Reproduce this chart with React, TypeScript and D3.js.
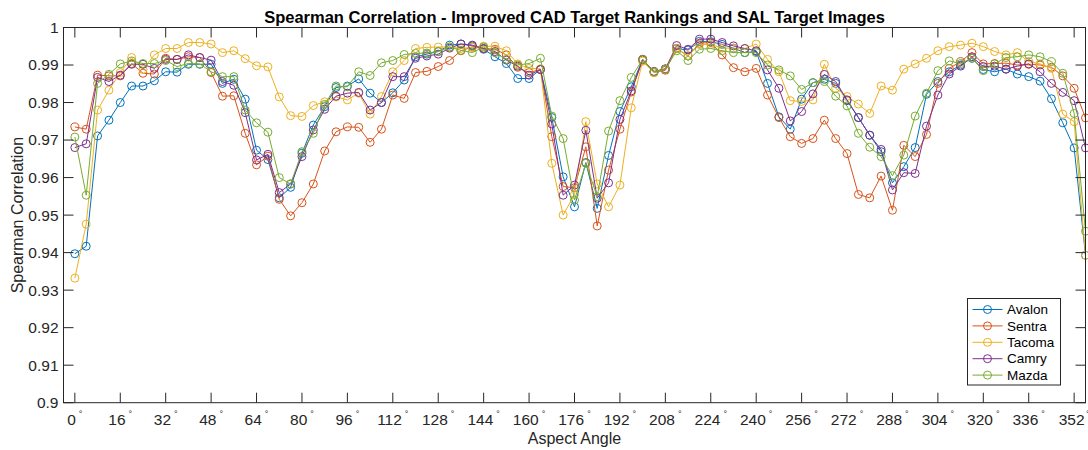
import React from "react";
import * as d3 from "d3";

const angles: number[] = d3.range(0, 360, 4);

const avalon: number[] = [
  0.9397, 0.9417, 0.9711, 0.9753, 0.98, 0.9844, 0.9844, 0.9858, 0.9882, 0.9881,
  0.9902, 0.9902, 0.9902, 0.9851, 0.9862, 0.9809, 0.9673, 0.9648, 0.9546, 0.9574,
  0.9665, 0.974, 0.9789, 0.984, 0.9844, 0.9863, 0.9825, 0.98, 0.9826, 0.986,
  0.9922, 0.9929, 0.9936, 0.9953, 0.9956, 0.9951, 0.9942, 0.9922, 0.9904, 0.9864,
  0.9864, 0.9888, 0.976, 0.9602, 0.9522, 0.964, 0.9518, 0.9659, 0.9776, 0.9842,
  0.9915, 0.9882, 0.9889, 0.9944, 0.994, 0.9963, 0.9962, 0.9955, 0.9945, 0.9933,
  0.9936, 0.9851, 0.9762, 0.9729, 0.9809, 0.9853, 0.9862, 0.9851, 0.9805, 0.976,
  0.9713, 0.9669, 0.9586, 0.9629, 0.968, 0.9822, 0.9856, 0.9882, 0.99, 0.9918,
  0.9888, 0.9882, 0.9889, 0.9876, 0.9869, 0.9857, 0.981, 0.9746, 0.9679, 0.9393,
];

const sentra: number[] = [
  0.9735, 0.9729, 0.9873, 0.9871, 0.9871, 0.9904, 0.9878, 0.9876, 0.9918, 0.9915,
  0.9922, 0.992, 0.988, 0.9817, 0.9818, 0.9718, 0.9634, 0.9657, 0.9542, 0.9498,
  0.9533, 0.9583, 0.9671, 0.9722, 0.9735, 0.9734, 0.9694, 0.9729, 0.982, 0.9811,
  0.988, 0.9883, 0.9896, 0.9912, 0.9938, 0.9948, 0.9944, 0.9942, 0.9927, 0.9894,
  0.988, 0.9888, 0.9709, 0.9576, 0.9573, 0.9682, 0.9471, 0.962, 0.9729, 0.9828,
  0.9913, 0.988, 0.9886, 0.9944, 0.9924, 0.9958, 0.996, 0.9927, 0.9893, 0.9882,
  0.9891, 0.982, 0.976, 0.9709, 0.9691, 0.9704, 0.9753, 0.9704, 0.9664, 0.9555,
  0.9546, 0.9604, 0.9513, 0.9686, 0.9656, 0.9715, 0.9851, 0.9891, 0.9909, 0.9933,
  0.9903, 0.9904, 0.9905, 0.99, 0.9902, 0.99, 0.9894, 0.9871, 0.9838, 0.9759,
];

const tacoma: number[] = [
  0.9332, 0.9476, 0.978, 0.9833, 0.988, 0.992, 0.9888, 0.9927, 0.9944, 0.9944,
  0.996, 0.996, 0.9956, 0.9933, 0.9938, 0.9917, 0.9898, 0.9895, 0.9815, 0.9765,
  0.9763, 0.9792, 0.9802, 0.9815, 0.9807, 0.9825, 0.9769, 0.9816, 0.9882, 0.9912,
  0.9944, 0.9947, 0.9948, 0.9948, 0.9944, 0.9947, 0.995, 0.995, 0.9938, 0.9903,
  0.9891, 0.989, 0.9638, 0.95, 0.9555, 0.9749, 0.9583, 0.9522, 0.958, 0.9786,
  0.991, 0.988, 0.9889, 0.9944, 0.9925, 0.9955, 0.9955, 0.9945, 0.9945, 0.9944,
  0.9956, 0.9915, 0.9882, 0.9805, 0.9803, 0.9807, 0.9902, 0.9838, 0.9816, 0.9796,
  0.9771, 0.9844, 0.9833, 0.9889, 0.9903, 0.9918, 0.9938, 0.9949, 0.9953, 0.9958,
  0.9949, 0.9936, 0.9927, 0.9933, 0.9909, 0.9903, 0.9891, 0.9769, 0.9749, 0.9393,
];

const camry: number[] = [
  0.968, 0.969, 0.9867, 0.9856, 0.9873, 0.9902, 0.9902, 0.9891, 0.9915, 0.9915,
  0.9927, 0.992, 0.9913, 0.9856, 0.9846, 0.9773, 0.9647, 0.9662, 0.956, 0.9583,
  0.9656, 0.9727, 0.9782, 0.9817, 0.9825, 0.9827, 0.978, 0.98, 0.9869, 0.9869,
  0.9918, 0.9924, 0.9929, 0.9945, 0.9956, 0.9953, 0.9944, 0.9936, 0.9913, 0.9897,
  0.9873, 0.9888, 0.9743, 0.9553, 0.958, 0.9726, 0.9545, 0.9586, 0.9755, 0.9831,
  0.9915, 0.9883, 0.989, 0.9952, 0.9942, 0.9969, 0.9969, 0.996, 0.9951, 0.9944,
  0.9938, 0.9887, 0.9838, 0.9751, 0.9776, 0.9823, 0.9875, 0.9856, 0.9807, 0.976,
  0.9713, 0.9675, 0.9567, 0.9613, 0.9611, 0.9737, 0.982, 0.9876, 0.9897, 0.9922,
  0.9896, 0.9897, 0.9889, 0.9897, 0.9903, 0.9882, 0.9851, 0.9827, 0.9805, 0.9679,
];

const mazda: number[] = [
  0.9708, 0.9553, 0.9851, 0.9875, 0.9903, 0.9911, 0.9904, 0.9904, 0.9912, 0.9896,
  0.9904, 0.9903, 0.9882, 0.9869, 0.9869, 0.978, 0.9746, 0.9721, 0.96, 0.9583,
  0.9669, 0.9718, 0.9795, 0.9844, 0.9842, 0.9882, 0.9872, 0.9906, 0.9912, 0.9928,
  0.9931, 0.9932, 0.9936, 0.9948, 0.9939, 0.9933, 0.9948, 0.9933, 0.9915, 0.99,
  0.9904, 0.9918, 0.9764, 0.9704, 0.954, 0.9638, 0.9549, 0.9724, 0.9805, 0.9867,
  0.9915, 0.9882, 0.9889, 0.9938, 0.9912, 0.9942, 0.9944, 0.9938, 0.9933, 0.9933,
  0.9933, 0.99, 0.9887, 0.9871, 0.9835, 0.9853, 0.9856, 0.9817, 0.9791, 0.9718,
  0.9681, 0.9656, 0.9605, 0.966, 0.9764, 0.9825, 0.9885, 0.9911, 0.9904, 0.9918,
  0.9885, 0.9903, 0.992, 0.9922, 0.9927, 0.9922, 0.9909, 0.9878, 0.9771, 0.9457,
];

const seriesNames: string[] = ["Avalon", "Sentra", "Tacoma", "Camry", "Mazda"];
const seriesValues: number[][] = [avalon, sentra, tacoma, camry, mazda];
const colors: string[] = ["#0072BD", "#D95319", "#EDB120", "#7E2F8E", "#77AC30"];

const xTicks: number[] = d3.range(0, 353, 16);
const yTicks: number[] = [0.9, 0.91, 0.92, 0.93, 0.94, 0.95, 0.96, 0.97, 0.98, 0.99, 1];

const W = 1088;
const H = 450;
const L = 63.5;
const R = 1085.5;
const T = 27.5;
const B = 402.7;
const AX = "#262626";
const FONT = "'Liberation Sans', Arial, Helvetica, sans-serif";

export default function App() {
  const x = d3.scaleLinear().domain([-4, 356]).range([L, R]);
  const y = d3.scaleLinear().domain([0.9, 1]).range([B, T]);
  const line = d3
    .line<number>()
    .x((_, i) => x(angles[i]))
    .y((d) => y(d));
  const tk = 10;

  return (
    <svg
      width={W}
      height={H}
      style={{ position: "absolute", left: 0, top: 0, background: "#fff" }}
      fontFamily={FONT}
    >
      <rect x={0} y={0} width={W} height={H} fill="#fff" />
      {seriesValues.map((vals, si) => (
        <g key={seriesNames[si]}>
          <path d={line(vals) || ""} fill="none" stroke={colors[si]} strokeWidth={1} />
          {vals.map((v, i) => (
            <circle
              key={i}
              cx={x(angles[i])}
              cy={y(v)}
              r={4}
              fill="none"
              stroke={colors[si]}
              strokeWidth={1}
            />
          ))}
        </g>
      ))}
      <rect x={L} y={T} width={R - L} height={B - T} fill="none" stroke={AX} strokeWidth={1} />
      {xTicks.map((t) => (
        <g key={"xt" + t}>
          <line x1={x(t)} x2={x(t)} y1={B} y2={B - tk} stroke={AX} />
          <line x1={x(t)} x2={x(t)} y1={T} y2={T + tk} stroke={AX} />
          <text x={x(t)} y={425} textAnchor="middle" fontSize={15.5} fill={AX}>
            {t}
            <tspan fontSize={9} dx={t === 352 ? 1.5 : 3} dy={-8}>
              °
            </tspan>
          </text>
        </g>
      ))}
      {yTicks.map((t) => (
        <g key={"yt" + t}>
          <line x1={L} x2={L + tk} y1={y(t)} y2={y(t)} stroke={AX} />
          <line x1={R} x2={R - tk} y1={y(t)} y2={y(t)} stroke={AX} />
          <text
            x={L - 5}
            y={y(t)}
            dy="0.35em"
            textAnchor="end"
            fontSize={15.5}
            fill={AX}
          >
            {d3.format("")(+t.toFixed(2))}
          </text>
        </g>
      ))}
      <text
        x={(L + R) / 2}
        y={22.5}
        textAnchor="middle"
        fontSize={16.5}
        fontWeight="bold"
        fill="#000"
      >
        Spearman Correlation - Improved CAD Target Rankings and SAL Target Images
      </text>
      <text x={(L + R) / 2} y={444} textAnchor="middle" fontSize={16} fill={AX}>
        Aspect Angle
      </text>
      <text
        transform={`translate(23, ${(T + B) / 2}) rotate(-90)`}
        textAnchor="middle"
        fontSize={16}
        fill={AX}
      >
        Spearman Correlation
      </text>
      <g>
        <rect x={967.5} y={298.5} width={93} height={86.5} fill="#fff" stroke={AX} strokeWidth={1} />
        {seriesNames.map((n, i) => {
          const yy = 309.5 + i * 16.4;
          return (
            <g key={n}>
              <line x1={972.5} x2={1002.5} y1={yy} y2={yy} stroke={colors[i]} strokeWidth={1} />
              <circle cx={987.5} cy={yy} r={4} fill="none" stroke={colors[i]} strokeWidth={1} />
              <text x={1007} y={yy} dy="0.35em" fontSize={13.5} fill="#000">
                {n}
              </text>
            </g>
          );
        })}
      </g>
    </svg>
  );
}
